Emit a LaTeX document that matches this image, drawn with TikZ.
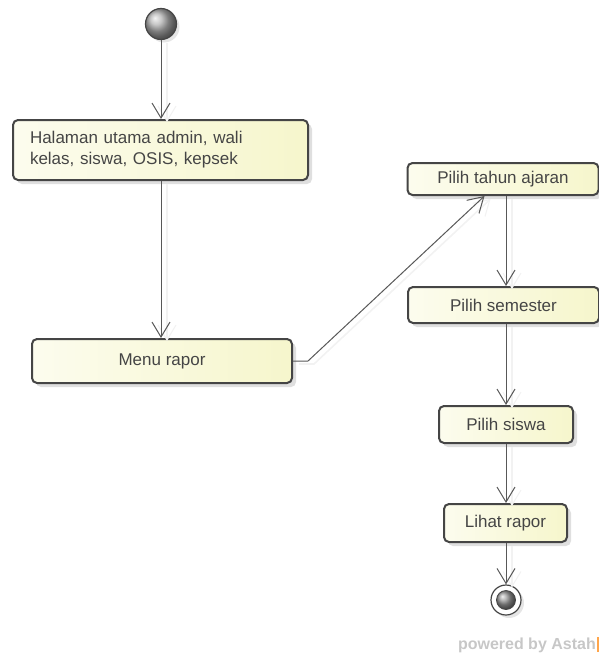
\documentclass[tikz,border=0pt]{standalone}
\usepackage{fontspec}
\setmainfont{Liberation Sans}
\usetikzlibrary{arrows.meta,shadows,calc}
\definecolor{boxline}{HTML}{454545}
\definecolor{txt}{HTML}{454545}
\definecolor{boxL}{HTML}{FCFCEE}
\definecolor{boxR}{HTML}{F6F6CC}
\tikzset{
  x=1pt,y=-1pt,
  act/.style={draw=boxline, line width=2pt, rounded corners=5pt,
    left color=boxL, right color=boxR, text=txt,
    font=\fontsize{17}{21}\selectfont, inner sep=0pt,
    drop shadow={shadow xshift=4pt, shadow yshift=-4pt, fill=black!25, opacity=0.5}},
  flow/.style={draw=boxline!90, line width=1pt,
    -{Straight Barb[length=15pt,width=18pt,line width=1pt]},
    preaction={draw=black!5, line width=1.6pt, transform canvas={shift={(6pt,-3pt)}}}},
}
\begin{document}
\begin{tikzpicture}
\useasboundingbox (0,0) rectangle (599,656);
% start
\node[circle, minimum size=31pt, inner sep=0pt, draw=boxline, line width=1.2pt,
  ball color=black!30, shading=ball,
  drop shadow={shadow xshift=3pt, shadow yshift=-3pt, fill=black!20, opacity=0.5}] (start) at (161,24) {};
% actions
\node[act, minimum width=295pt, minimum height=60pt, text width=261pt, align=left, inner xsep=17pt]
  (home) at (160.5,150) {Halaman utama admin, wali\\kelas, siswa, OSIS, kepsek};
\node[act, minimum width=260pt, minimum height=44pt] (menu) at (162,361) {Menu rapor};
\node[act, minimum width=191pt, minimum height=32pt] (tahun) at (503,179) {Pilih tahun ajaran};
\node[act, minimum width=191pt, minimum height=36pt] (sem) at (503.5,305) {Pilih semester};
\node[act, minimum width=134pt, minimum height=37pt] (siswa) at (506,424.5) {Pilih siswa};
\node[act, minimum width=123pt, minimum height=38pt] (lihat) at (505.5,523) {Lihat rapor};
% end
\node[circle, minimum size=30pt, inner sep=0pt, draw=boxline, line width=1.2pt, fill=white,
  drop shadow={shadow xshift=3pt, shadow yshift=-3pt, fill=black!20, opacity=0.5}] (end) at (506,600) {};
\node[circle, minimum size=19pt, inner sep=0pt, draw=boxline, line width=0.8pt,
  ball color=black!40, shading=ball] (endin) at (end.center) {};
% connectors
\draw[flow] (start.south) -- (start.south |- home.north);
\draw[flow] (start.south |- home.south) -- (start.south |- menu.north);
\coordinate (bend) at ($(menu.east)+(15,0)$);
\coordinate (tin) at ($(tahun.south west)+(78,0)$);
\draw[flow] (menu.east) -- (bend) -- (tin);
\draw[flow] (tahun.south -| end) -- (sem.north -| end);
\draw[flow] (sem.south -| end) -- (siswa.north -| end);
\draw[flow] (siswa.south -| end) -- (lihat.north -| end);
\draw[flow] (lihat.south -| end) -- (end.north);
% watermark
\node[anchor=east, text=black!22, font=\fontsize{16}{18}\bfseries\selectfont, inner sep=0pt] (wm) at (596,645) {powered by Astah};
\fill[orange!70] (597,637) rectangle (599,652);
\end{tikzpicture}
\end{document}
